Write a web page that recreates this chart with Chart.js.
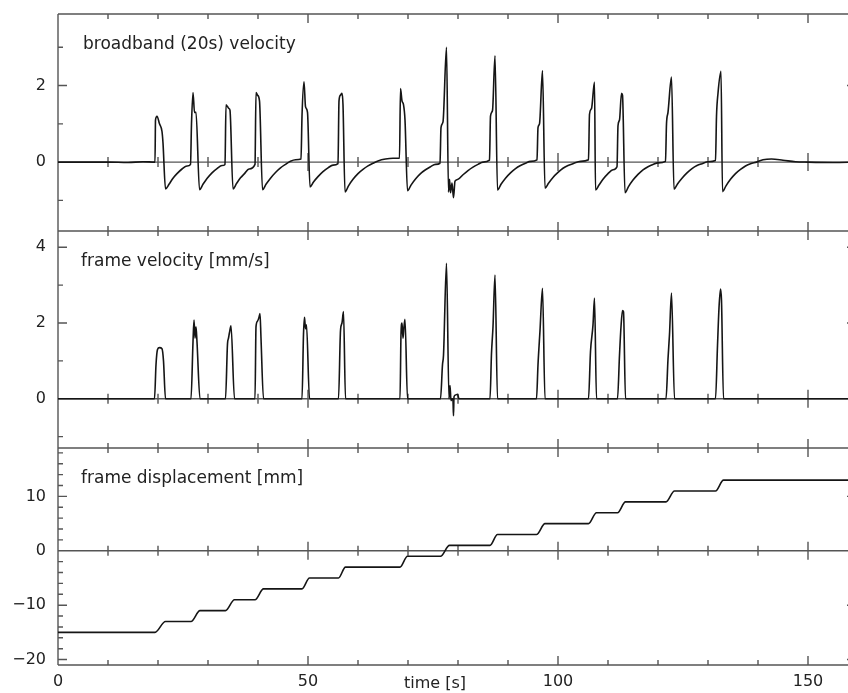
<!DOCTYPE html>
<html>
<head>
<meta charset="utf-8">
<script src="https://cdn.jsdelivr.net/npm/chart.js@4.4.1/dist/chart.umd.min.js"></script>
<style>
  html, body { margin: 0; padding: 0; background: #fff; overflow: hidden; }
  #wrap { width: 864px; height: 693px; }
</style>
</head>
<body>
<div id="wrap"><canvas id="chart" width="864" height="693"></canvas></div>
<script>
// [time s, value] pairs
const broadbandVelocity = [
  [0, 0], [10, 0], [14, -0.01], [17, 0.01], [19.4, 0],
  [19.5, 1.1], [19.8, 1.2], [20.3, 1.0], [20.8, 0.8], [21.0, 0.5], [21.5, -0.7],
  [22.2, -0.58], [23.0, -0.42], [23.8, -0.3], [24.8, -0.18], [25.8, -0.1], [26.5, -0.06],
  [26.7, 1.0], [27.0, 1.82], [27.3, 1.3], [27.6, 1.3], [28.3, -0.72],
  [29.0, -0.58], [29.8, -0.43], [30.8, -0.28], [31.8, -0.17], [32.8, -0.09], [33.4, -0.06],
  [33.6, 1.5], [33.9, 1.45], [34.2, 1.4], [34.4, 1.35], [35.0, -0.7],
  [35.7, -0.56], [36.5, -0.41], [37.3, -0.3], [38.2, -0.18], [39.4, -0.06],
  [39.6, 1.82], [39.9, 1.75], [40.3, 1.6], [40.9, -0.72],
  [41.6, -0.58], [42.5, -0.42], [43.5, -0.27], [44.5, -0.15], [45.5, -0.06], [46.5, 0.02], [47.5, 0.06], [48.6, 0.08],
  [48.8, 1.2], [49.2, 2.1], [49.5, 1.45], [49.9, 1.3], [50.4, -0.65],
  [51.1, -0.52], [52, -0.38], [53, -0.25], [54, -0.15], [55, -0.08], [56.0, -0.04],
  [56.2, 1.6], [56.5, 1.75], [56.8, 1.8], [57.0, 1.5], [57.4, -0.78],
  [58.1, -0.62], [59, -0.45], [60, -0.3], [61, -0.19], [62, -0.1], [63, -0.03], [64, 0.03], [65.5, 0.08], [67, 0.1], [68.3, 0.1],
  [68.5, 1.92], [68.8, 1.6], [69.1, 1.5], [69.4, 1.1], [69.9, -0.75],
  [70.6, -0.6], [71.5, -0.44], [72.5, -0.3], [73.5, -0.2], [74.5, -0.12], [75.5, -0.06], [76.4, -0.03],
  [76.6, 0.9], [77.0, 1.05], [77.7, 3.0], [78.1, -0.78], [78.3, -0.45], [78.5, -0.8], [78.8, -0.55], [79.1, -0.93], [79.4, -0.5],
  [80.0, -0.45], [81.0, -0.33], [82.0, -0.22], [83.0, -0.13], [84.0, -0.06], [85.0, 0.0], [86.3, 0.05],
  [86.5, 1.2], [86.9, 1.35], [87.4, 2.78], [87.9, -0.73],
  [88.6, -0.58], [89.5, -0.42], [90.5, -0.28], [91.5, -0.17], [92.5, -0.09], [93.5, -0.03], [94.5, 0.02], [95.8, 0.06],
  [96.0, 0.9], [96.3, 1.0], [96.9, 2.39], [97.4, -0.68],
  [98.1, -0.55], [99, -0.4], [100, -0.27], [101, -0.16], [102, -0.09], [103, -0.04], [104.5, 0.02], [106.1, 0.06],
  [106.3, 1.25], [106.7, 1.4], [107.3, 2.09], [107.5, -0.73],
  [108.2, -0.6], [109, -0.45], [110, -0.3], [111, -0.2], [111.8, -0.12],
  [112.0, 0.95], [112.3, 1.1], [112.7, 1.8], [112.9, 1.75], [113.4, -0.8],
  [114.1, -0.64], [115, -0.47], [116, -0.32], [117, -0.2], [118, -0.12], [119, -0.06], [120, -0.02], [121.5, 0.02],
  [121.7, 1.0], [122.0, 1.3], [122.7, 2.22], [123.2, -0.71],
  [123.9, -0.57], [124.8, -0.42], [125.8, -0.28], [126.8, -0.17], [127.8, -0.09], [128.8, -0.04], [130, 0.01], [131.5, 0.04],
  [131.7, 1.2], [132.0, 1.8], [132.6, 2.37], [132.9, -0.77],
  [133.6, -0.62], [134.5, -0.45], [135.5, -0.3], [136.5, -0.19], [137.5, -0.1], [138.5, -0.04], [139.7, 0],
  [141, 0.06], [142.7, 0.08], [145, 0.05], [147.5, 0.01], [150, 0], [155, -0.01], [159.6, 0]
];

const frameVelocity = [
  [0, 0], [19.3, 0], [19.6, 0.9], [19.9, 1.3], [20.3, 1.35], [20.8, 1.32], [21.1, 1.0], [21.5, 0],
  [26.6, 0], [27.0, 1.5], [27.2, 2.08], [27.4, 1.6], [27.6, 1.9], [27.8, 1.5], [28.4, 0],
  [33.5, 0], [33.9, 1.45], [34.1, 1.6], [34.3, 1.75], [34.6, 1.93], [35.3, 0],
  [39.4, 0], [39.6, 1.9], [39.9, 2.05], [40.2, 2.15], [40.4, 2.25], [40.6, 1.6], [41.1, 0],
  [48.8, 0], [49.1, 1.7], [49.3, 2.15], [49.5, 1.85], [49.7, 1.95], [50.3, 0],
  [56.1, 0], [56.5, 1.8], [56.8, 2.0], [57.1, 2.3], [57.5, 0],
  [68.4, 0], [68.6, 1.7], [68.8, 2.0], [69.0, 1.6], [69.2, 1.9], [69.4, 2.1], [69.9, 0],
  [76.5, 0], [76.9, 0.9], [77.1, 1.15], [77.7, 3.58], [78.2, 0], [78.4, 0.35], [78.6, -0.05], [78.9, 0],
  [79.0, -0.05], [79.1, -0.45], [79.2, 0.05], [79.5, 0.1], [79.9, 0.12], [80.2, 0],
  [86.4, 0], [86.7, 1.2], [87.0, 1.9], [87.4, 3.27], [87.9, 0],
  [95.7, 0], [96.0, 0.9], [96.4, 1.8], [96.9, 2.92], [97.4, 0],
  [106.1, 0], [106.5, 1.25], [107.0, 1.95], [107.3, 2.66], [107.7, 0],
  [111.9, 0], [112.3, 1.15], [112.6, 1.9], [112.9, 2.33], [113.1, 2.3], [113.5, 0],
  [121.6, 0], [122.0, 1.05], [122.3, 1.7], [122.7, 2.79], [123.3, 0],
  [131.5, 0], [131.9, 1.4], [132.2, 2.4], [132.5, 2.9], [132.7, 2.6], [133.1, 0], [133.3, 0], [159.6, 0]
];

const frameDisplacement = [
  [0, -15], [19.4, -15], [21.5, -13], [26.6, -13], [28.4, -11], [33.5, -11], [35.3, -9],
  [39.4, -9], [41.1, -7], [48.8, -7], [50.3, -5], [56.1, -5], [57.5, -3], [68.4, -3], [69.9, -1],
  [76.5, -1], [78.3, 1], [86.4, 1], [87.9, 3], [95.7, 3], [97.4, 5], [106.1, 5], [107.7, 7],
  [111.9, 7], [113.5, 9], [121.6, 9], [123.3, 11], [131.5, 11], [133.1, 13], [159.6, 13]
];

const panelTitles = ['broadband (20s) velocity', 'frame velocity [mm/s]', 'frame displacement [mm]'];
const axisTitle = 'time [s]';

const frameColor = '#555';
const inkColor = '#151515';
const textColor = '#222';

// labelled (long) tick every n units, per scale
const majorEvery = { x: 50, y1: 2, y2: 2, y3: 10 };

function isMajor(id, v) {
    const r = Math.abs(v % majorEvery[id]);
    return r < 1e-6 || Math.abs(r - majorEvery[id]) < 1e-6;
}

function fmt(v) {
    return String(Math.round(v)).replace('-', '\u2212');
}

function toXY(pairs) {
    return pairs.map(([x, y]) => ({ x, y }));
}

function tickLen(major) {
    return major ? 9 : 5;
}

// frame, zero lines, inward ticks and panel labels
const framePlugin = {
    id: 'framePlugin',
    beforeDatasetsDraw(chart) {
        const { ctx, chartArea: area, scales } = chart;
        const xs = scales.x;
        const panels = [scales.y1, scales.y2, scales.y3];
        ctx.save();
        ctx.strokeStyle = frameColor;
        ctx.lineWidth = 1.4;
        ctx.beginPath();
        ctx.moveTo(area.left, area.top); ctx.lineTo(area.left, area.bottom);
        ctx.moveTo(area.right, area.top); ctx.lineTo(area.right, area.bottom);

        const rules = [];
        panels.forEach((s, i) => {
            rules.push({ y: s.top, up: i > 0, down: true });
            rules.push({ y: s.getPixelForValue(0), up: true, down: true });
            s.ticks.forEach(t => {
                const y = s.getPixelForValue(t.value);
                const len = tickLen(isMajor(s.id, t.value));
                ctx.moveTo(area.left, y); ctx.lineTo(area.left + len, y);
                ctx.moveTo(area.right, y); ctx.lineTo(area.right - len, y);
            });
        });
        rules.push({ y: area.bottom, up: true, down: false });

        rules.forEach(r => {
            ctx.moveTo(area.left, r.y); ctx.lineTo(area.right, r.y);
            xs.ticks.forEach(t => {
                const x = xs.getPixelForValue(t.value);
                const len = tickLen(isMajor('x', t.value));
                ctx.moveTo(x, r.up ? r.y - len : r.y);
                ctx.lineTo(x, r.down ? r.y + len : r.y);
            });
        });
        ctx.stroke();
        ctx.restore();
    },
    afterDraw(chart) {
        const { ctx, chartArea: area, scales } = chart;
        const panels = [scales.y1, scales.y2, scales.y3];
        ctx.save();
        ctx.fillStyle = textColor;
        ctx.textBaseline = 'alphabetic';
        ctx.textAlign = 'left';
        ctx.font = '17px "DejaVu Sans"';
        panels.forEach((s, i) => {
            ctx.fillText(panelTitles[i], area.left + (i === 0 ? 25 : 23), s.top + 34.5);
        });
        ctx.font = '16px "DejaVu Sans"';
        ctx.textAlign = 'center';
        ctx.fillText(axisTitle, scales.x.getPixelForValue(75.4), area.bottom + 23);
        ctx.restore();
    }
};

Chart.defaults.font.family = '"DejaVu Sans", sans-serif';
Chart.defaults.font.size = 16;
Chart.defaults.color = textColor;

function yScale(min, max, step, weight) {
    return {
        type: 'linear',
        position: 'left',
        stack: 'panels',
        stackWeight: 1,
        weight: weight,
        min: min,
        max: max,
        grid: { display: false, drawTicks: false },
        border: { display: false },
        ticks: {
            stepSize: step,
            includeBounds: false,
            autoSkip: false,
            padding: 12,
            callback: function (v) { return isMajor(this.id, v) ? fmt(v) : ''; }
        },
        afterFit: s => {
            s.width = 58;
            s.paddingTop = 0;
            s.paddingBottom = 0;
        }
    };
}

const lineStyle = {
    borderColor: inkColor,
    borderWidth: 1.6,
    pointRadius: 0,
    fill: false,
    cubicInterpolationMode: 'monotone'
};

new Chart(document.getElementById('chart'), {
    type: 'line',
    data: {
        datasets: [
            { ...lineStyle, label: panelTitles[0], data: toXY(broadbandVelocity), yAxisID: 'y1' },
            { ...lineStyle, label: panelTitles[1], data: toXY(frameVelocity), yAxisID: 'y2' },
            { ...lineStyle, label: panelTitles[2], data: toXY(frameDisplacement), yAxisID: 'y3' }
        ]
    },
    options: {
        responsive: false,
        animation: false,
        devicePixelRatio: 1,
        layout: { padding: { top: 14, right: 8, left: 0, bottom: 0 } },
        plugins: { legend: { display: false }, tooltip: { enabled: false } },
        scales: {
            x: {
                type: 'linear',
                position: 'bottom',
                min: 0,
                max: 159.6,
                grid: { display: false, drawTicks: false },
                border: { display: false },
                ticks: {
                    stepSize: 10,
                    includeBounds: false,
                    autoSkip: false,
                    maxRotation: 0,
                    padding: 7,
                    callback: v => isMajor('x', v) ? fmt(v) : ''
                },
                afterFit: s => { s.height = 28; }
            },
            y1: yScale(-1.8, 3.87, 1, 3),
            y2: yScale(-1.3, 4.43, 1, 2),
            y3: yScale(-21, 18.9, 2, 1)
        }
    },
    plugins: [framePlugin]
});
</script>
</body>
</html>
